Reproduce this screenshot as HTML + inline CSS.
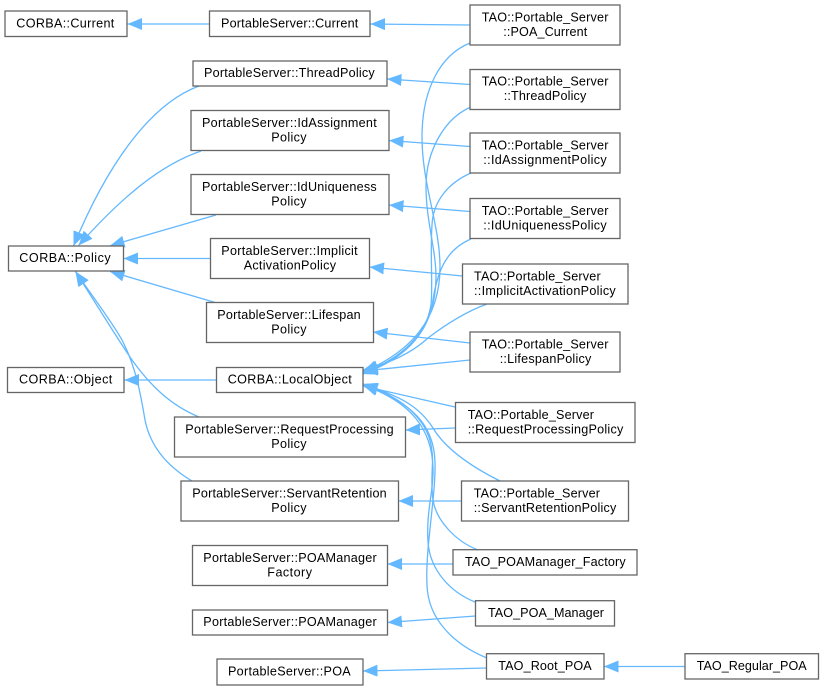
<!DOCTYPE html>
<html><head><meta charset="utf-8"><style>
html,body{margin:0;padding:0;background:#fff;width:824px;height:690px;overflow:hidden}
svg{display:block;filter:blur(.35px)}
text{font-family:"Liberation Sans",sans-serif;font-size:12.6px;fill:#000}
rect{fill:#fff;stroke:#666;stroke-width:1.3}
.e path{fill:none;stroke:#63b8ff;stroke-width:1.3;marker-end:url(#a)}
</style></head><body>
<svg width="824" height="690" viewBox="0 0 824 690" xmlns="http://www.w3.org/2000/svg">
<defs><marker id="a" markerUnits="userSpaceOnUse" markerWidth="16" markerHeight="13" refX="14.5" refY="6" orient="auto"><path d="M0,0 L14.5,6 L0,12 Z" fill="#63b8ff"/></marker></defs>
<g class="e">
<path d="M209,24 L127.5,24"/>
<path d="M470,25 L370.5,24"/>
<path d="M199,86 C150,104 107,165 73.5,246"/>
<path d="M201,151 C160,165 122,197 78.5,245.5"/>
<path d="M216,215 L110,245.7"/>
<path d="M210,258.5 L123.5,258.5"/>
<path d="M216,302.7 L110,271.5"/>
<path d="M199,417 C170,405 150,385 132,360 C115,335 95,302 75.5,271.5"/>
<path d="M192,481 C165,465 150,445 145,420 C140,390 135,365 122,340 C112,322 95,300 75.5,271.5"/>
<path d="M216,380 L124.5,380"/>
<path d="M470,43 C440,55 422,90 422,137 C422,185 440,225 440,267 C440,320 410,352 363,372"/>
<path d="M471,107 C445,118 426,150 426,187 C426,220 436,250 436,277 C436,325 410,355 363,373"/>
<path d="M471,173 C450,182 433,200 432,225 C430,255 433,285 431,305 C426,335 405,358 363,374"/>
<path d="M471,239 C450,248 437,265 432,307 C425,335 405,358 363,374"/>
<path d="M487,304 C465,312 445,325 428,338 C415,350 395,362 363,370"/>
<path d="M470,360 L363,371"/>
<path d="M455,407 L363,386"/>
<path d="M500,481 C470,466 445,448 433,428 C420,408 405,398 363,384"/>
<path d="M478,550 C455,541 436,520 433,500 C430,480 434,460 432,452 C430,425 410,400 363,384"/>
<path d="M475,602 C450,592 430,570 428,542 C426,510 434,490 433,468 C432,430 412,402 363,385"/>
<path d="M487,658 C455,645 428,620 427,585 C425,550 436,495 435,462 C434,425 412,402 363,385"/>
<path d="M455,428 L405.5,430"/>
<path d="M461.5,501 L398.5,501"/>
<path d="M453,564 L387.5,564"/>
<path d="M475.5,616 L387.5,622.5"/>
<path d="M486.5,668 L363,671"/>
<path d="M685,666.5 L604,666.5"/>
<path d="M470,84.5 L387,79"/>
<path d="M470,146.5 L389,140.5"/>
<path d="M470,211.5 L389,205"/>
<path d="M462.5,276 L369.5,267"/>
<path d="M470,343 L373,332"/>
</g>
<rect x="5" y="11" width="122" height="25.5"/><text x="16.3" y="27.5" textLength="98">CORBA::Current</text>
<rect x="209.5" y="11" width="160.5" height="25.5"/><text x="221" y="27.5" textLength="137.3">PortableServer::Current</text>
<rect x="193" y="61" width="194" height="25"/><text x="204" y="77" textLength="170.7">PortableServer::ThreadPolicy</text>
<rect x="191" y="110.5" width="198" height="40"/><text x="202" y="127" textLength="174.7">PortableServer::IdAssignment</text><text x="271.3" y="141.5" textLength="35.3">Policy</text>
<rect x="191" y="174.5" width="198" height="40"/><text x="202" y="191" textLength="174.7">PortableServer::IdUniqueness</text><text x="271.3" y="205.5" textLength="35.3">Policy</text>
<rect x="210.5" y="238.5" width="159" height="40"/><text x="221.3" y="255" textLength="136.3">PortableServer::Implicit</text><text x="243.7" y="269.5" textLength="92.3">ActivationPolicy</text>
<rect x="206.5" y="302.5" width="167" height="40"/><text x="217.3" y="319" textLength="143.4">PortableServer::Lifespan</text><text x="271.3" y="333.5" textLength="35.3">Policy</text>
<rect x="8.5" y="246" width="115" height="25"/><text x="19.3" y="262" textLength="91.4">CORBA::Policy</text>
<rect x="7.5" y="367.5" width="116.5" height="25"/><text x="19" y="383.5" textLength="93.3">CORBA::Object</text>
<rect x="216.5" y="367.5" width="146.5" height="25"/><text x="227.7" y="383.5" textLength="124">CORBA::LocalObject</text>
<rect x="174.5" y="417" width="231" height="40"/><text x="185.3" y="433.5" textLength="208.4">PortableServer::RequestProcessing</text><text x="271.3" y="448" textLength="35.3">Policy</text>
<rect x="181" y="481" width="217.5" height="40"/><text x="192.3" y="497.5" textLength="194.4">PortableServer::ServantRetention</text><text x="271.3" y="512" textLength="35.3">Policy</text>
<rect x="192.5" y="545.5" width="195" height="40"/><text x="203.3" y="562" textLength="173.4">PortableServer::POAManager</text><text x="267.3" y="576.5" textLength="44.7">Factory</text>
<rect x="192.5" y="610" width="195" height="25"/><text x="203.3" y="626" textLength="173.4">PortableServer::POAManager</text>
<rect x="217" y="659" width="146" height="26"/><text x="228" y="675.5" textLength="122.7">PortableServer::POA</text>
<rect x="470" y="5" width="150" height="40"/><text x="481.7" y="21.3" textLength="126.7">TAO::Portable_Server</text><text x="503.3" y="36" textLength="84">::POA_Current</text>
<rect x="470" y="69.5" width="150" height="40"/><text x="481.7" y="85.5" textLength="126.7">TAO::Portable_Server</text><text x="503.7" y="100" textLength="82.6">::ThreadPolicy</text>
<rect x="470" y="133" width="150" height="40"/><text x="481.7" y="149.5" textLength="126.7">TAO::Portable_Server</text><text x="483.3" y="164" textLength="123.4">::IdAssignmentPolicy</text>
<rect x="470" y="198.5" width="150" height="40"/><text x="481.7" y="215" textLength="126.7">TAO::Portable_Server</text><text x="483.3" y="229.5" textLength="123.4">::IdUniquenessPolicy</text>
<rect x="462.5" y="264" width="165.5" height="40"/><text x="474" y="280.5" textLength="126.7">TAO::Portable_Server</text><text x="474" y="295" textLength="141.7">::ImplicitActivationPolicy</text>
<rect x="470" y="332" width="150" height="40"/><text x="481.7" y="348.5" textLength="126.7">TAO::Portable_Server</text><text x="499.7" y="363" textLength="91.6">::LifespanPolicy</text>
<rect x="455.5" y="402.5" width="179.5" height="40"/><text x="467.7" y="419" textLength="126.3">TAO::Portable_Server</text><text x="467.7" y="433.5" textLength="155.6">::RequestProcessingPolicy</text>
<rect x="461.5" y="481" width="167" height="40"/><text x="473.7" y="497.5" textLength="126.3">TAO::Portable_Server</text><text x="473.7" y="512" textLength="142.6">::ServantRetentionPolicy</text>
<rect x="453" y="549.7" width="184" height="25.3"/><text x="465" y="566" textLength="160.7">TAO_POAManager_Factory</text>
<rect x="475.5" y="600.7" width="139" height="25.3"/><text x="488" y="617" textLength="116">TAO_POA_Manager</text>
<rect x="486.5" y="653.7" width="117.5" height="25.3"/><text x="498.3" y="670" textLength="93.4">TAO_Root_POA</text>
<rect x="685" y="653.7" width="133.5" height="25.3"/><text x="696.7" y="670" textLength="110">TAO_Regular_POA</text>
</svg>
</body></html>
